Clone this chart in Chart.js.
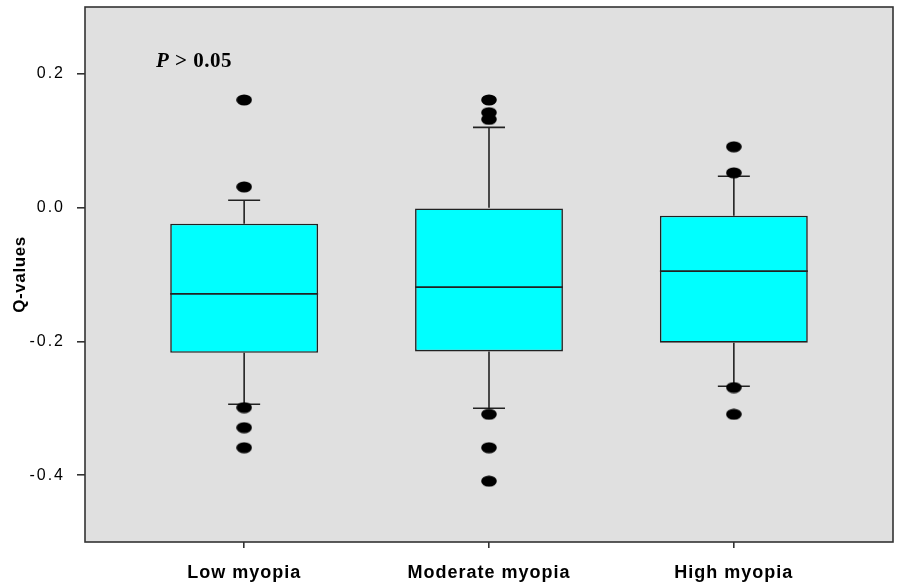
<!DOCTYPE html>
<html>
<head>
<meta charset="utf-8">
<script src="https://cdn.jsdelivr.net/npm/chart.js@4/dist/chart.umd.min.js"></script>
<style>
  html, body { margin: 0; padding: 0; background: #ffffff; }
  #wrap { width: 900px; height: 583px; }
</style>
</head>
<body>
<div id="wrap"><canvas id="c" width="900" height="583"></canvas></div>
<script>
// Q-value distribution by myopia group
const categories = ['Low myopia', 'Moderate myopia', 'High myopia'];
const positions = [1, 2, 3];
const q1 = [-0.217, -0.215, -0.202];
const q3 = [-0.024, 0.0, -0.012];
const medians = [-0.129, -0.119, -0.095];
const whiskerLow = [-0.294, -0.300, -0.267];
const whiskerHigh = [0.011, 0.120, 0.047];
const outliersLow = [0.161, 0.031, -0.299, -0.329, -0.359];
const outliersModerate = [0.161, 0.142, 0.132, -0.309, -0.359, -0.409];
const outliersHigh = [0.091, 0.052, -0.269, -0.309];
const yTicks = [-0.4, -0.2, 0.0, 0.2];
const pLabel = ['P', ' > 0.05'];

const outlierGroups = [outliersLow, outliersModerate, outliersHigh];
const boxData = positions.map((p, i) => ({ x: p, y: [q1[i], q3[i]] }));
const outlierData = [];
outlierGroups.forEach((g, i) => g.forEach(v => outlierData.push({ x: positions[i], y: v })));

// filled ellipse used as the outlier marker
const dot = document.createElement('canvas');
dot.width = 16; dot.height = 12;
(function () {
  const g = dot.getContext('2d');
  g.fillStyle = '#000';
  g.beginPath();
  g.ellipse(8, 6, 7.8, 5.6, 0, 0, Math.PI * 2);
  g.fill();
})();

const LINE = '#222222';

// run a scale drawing method with its own letter spacing
function spaced(scale, method, spacing) {
  const key = '_spaced_' + method;
  if (scale[key]) return;
  const orig = scale[method].bind(scale);
  scale[method] = function (...args) {
    const ctx = scale.ctx;
    const prev = ctx.letterSpacing;
    ctx.letterSpacing = spacing;
    orig(...args);
    ctx.letterSpacing = prev;
  };
  scale[key] = true;
}

const boxPlugin = {
  id: 'boxParts',
  beforeDraw(chart) {
    const { ctx, chartArea: a } = chart;
    ctx.save();
    ctx.fillStyle = '#e0e0e0';
    ctx.fillRect(a.left, a.top, a.right - a.left, a.bottom - a.top);
    ctx.restore();
  },
  beforeDatasetsDraw(chart) {
    // whiskers and caps
    const { ctx } = chart;
    const xs = chart.scales.x, ys = chart.scales.y;
    ctx.save();
    ctx.strokeStyle = LINE;
    ctx.lineWidth = 1.6;
    positions.forEach((p, i) => {
      const cx = xs.getPixelForValue(p);
      const yTop = ys.getPixelForValue(whiskerHigh[i]);
      const yBot = ys.getPixelForValue(whiskerLow[i]);
      const yq3 = ys.getPixelForValue(q3[i]);
      const yq1 = ys.getPixelForValue(q1[i]);
      ctx.beginPath();
      ctx.moveTo(cx, yq3); ctx.lineTo(cx, yTop);
      ctx.moveTo(cx, yq1); ctx.lineTo(cx, yBot);
      ctx.moveTo(cx - 16, yTop); ctx.lineTo(cx + 16, yTop);
      ctx.moveTo(cx - 16, yBot); ctx.lineTo(cx + 16, yBot);
      ctx.stroke();
    });
    ctx.restore();
  },
  afterDatasetDraw(chart, args) {
    if (args.index !== 0) return;
    const { ctx } = chart;
    const ys = chart.scales.y;
    ctx.save();
    ctx.strokeStyle = LINE;
    ctx.lineWidth = 1.8;
    args.meta.data.forEach((bar, i) => {
      const y = ys.getPixelForValue(medians[i]);
      ctx.beginPath();
      ctx.moveTo(bar.x - bar.width / 2, y);
      ctx.lineTo(bar.x + bar.width / 2, y);
      ctx.stroke();
    });
    ctx.restore();
  },
  afterDraw(chart) {
    const { ctx, chartArea: a } = chart;
    ctx.save();
    ctx.strokeStyle = '#333333';
    ctx.lineWidth = 1.6;
    ctx.strokeRect(a.left, a.top, a.right - a.left, a.bottom - a.top);
    // significance note
    ctx.letterSpacing = '0.5px';
    ctx.fillStyle = '#000';
    ctx.textBaseline = 'alphabetic';
    let x = a.left + 71, y = a.top + 60;
    ctx.font = 'italic bold 21px "Liberation Serif", "Times New Roman", serif';
    ctx.fillText(pLabel[0], x, y);
    x += ctx.measureText(pLabel[0]).width;
    ctx.font = 'bold 21px "Liberation Serif", "Times New Roman", serif';
    ctx.fillText(pLabel[1], x, y);
    ctx.restore();
    ctx.letterSpacing = '0px';
  }
};

new Chart(document.getElementById('c'), {
  type: 'bar',
  data: {
    datasets: [
      {
        type: 'bar',
        data: boxData,
        backgroundColor: '#00ffff',
        borderColor: LINE,
        borderWidth: 1.6,
        borderSkipped: false,
        barPercentage: 0.604,
        categoryPercentage: 1,
        order: 2
      },
      {
        type: 'scatter',
        data: outlierData,
        pointStyle: dot,
        pointRadius: 6,
        order: 1
      }
    ]
  },
  options: {
    responsive: false,
    animation: false,
    events: [],
    layout: { padding: { top: 7, right: 3, left: 0, bottom: 0 } },
    plugins: { legend: { display: false }, tooltip: { enabled: false } },
    scales: {
      x: {
        type: 'linear',
        min: 0.35,
        max: 3.65,
        offset: false,
        afterBuildTicks(scale) { scale.ticks = positions.map(v => ({ value: v })); },
        afterFit(scale) {
          scale.height = 41; scale.paddingLeft = 0; scale.paddingRight = 0;
          spaced(scale, 'drawLabels', '1px');
        },
        grid: { offset: false, drawOnChartArea: false, drawTicks: true, tickLength: 6, color: '#333', lineWidth: 1.6 },
        border: { display: false },
        ticks: {
          callback: (v) => categories[positions.indexOf(v)],
          font: { family: '"Liberation Sans", Arial, sans-serif', size: 18, weight: 'bold' },
          color: '#000',
          padding: 14,
          maxRotation: 0,
          autoSkip: false
        }
      },
      y: {
        type: 'linear',
        min: -0.5,
        max: 0.3,
        afterBuildTicks(scale) { scale.ticks = yTicks.map(v => ({ value: v })); },
        afterFit(scale) {
          scale.width = 85; scale.paddingTop = 0; scale.paddingBottom = 0;
          spaced(scale, 'drawLabels', '2px');
          spaced(scale, 'drawTitle', '0.6px');
        },
        grid: { drawOnChartArea: false, drawTicks: true, tickLength: 8, color: '#333', lineWidth: 1.6 },
        border: { display: false },
        title: {
          display: true,
          text: 'Q-values',
          color: '#000',
          font: { family: '"Liberation Sans", Arial, sans-serif', size: 17, weight: 'bold' },
          padding: { top: 10, bottom: 0 }
        },
        ticks: {
          callback: (v) => v.toFixed(1),
          font: { family: '"Liberation Sans", Arial, sans-serif', size: 16 },
          color: '#000',
          padding: 12
        }
      }
    }
  },
  plugins: [boxPlugin]
});
</script>
</body>
</html>
